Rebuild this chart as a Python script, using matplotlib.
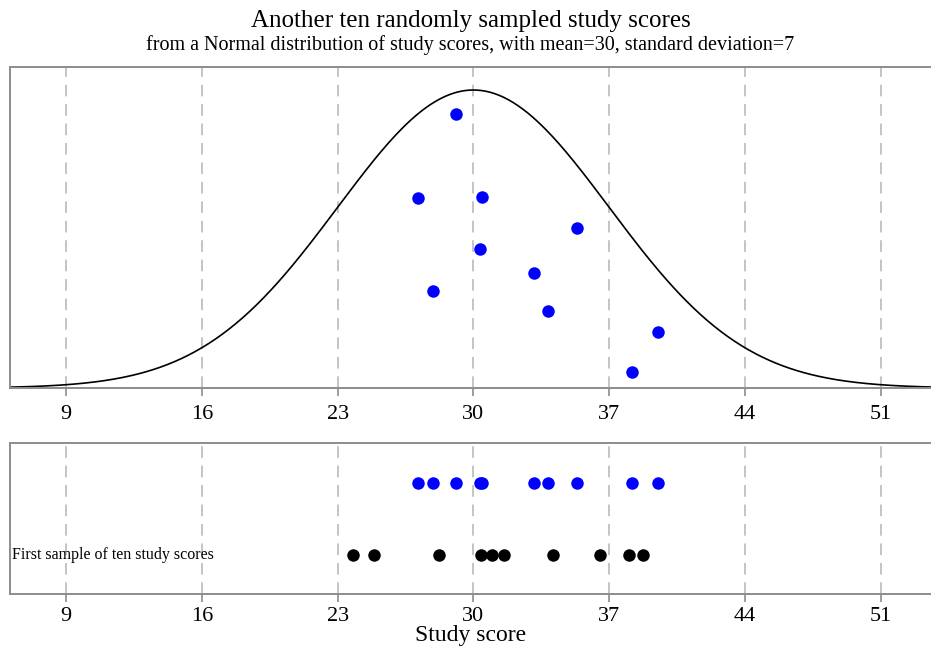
import matplotlib
matplotlib.use("Agg")
import matplotlib.pyplot as plt
import numpy as np

plt.rcParams['font.family'] = ['Liberation Serif', 'DejaVu Serif']

MEAN = 30
SD = 7

# second sample (blue): score and vertical jitter under the curve
new_scores = [29.12, 27.16, 30.46, 35.36, 30.36, 33.14, 27.94, 33.87, 39.54, 38.20]
new_heights = [0.0524, 0.0363, 0.0365, 0.0306, 0.0266, 0.0220, 0.0186, 0.0147, 0.0107, 0.0031]

# first sample (black)
first_scores = [23.81, 24.90, 28.25, 30.41, 30.98, 31.60, 34.12, 36.55, 38.04, 38.76]

tick_vals = [9, 16, 23, 30, 37, 44, 51]
xlim = (6.1, 53.6)

GRID = '#c4c4c4'
FRAME = '#8c8c8c'
BLUE = '#0000ff'


def style_axis(ax, pad):
    ax.set_xlim(*xlim)
    ax.set_xticks(tick_vals)
    ax.set_xticklabels([str(t) for t in tick_vals], fontsize=16)
    ax.set_yticks([])
    for t in tick_vals:
        ax.axvline(t, color=GRID, lw=1.4, ls=(0, (6, 4)), zorder=0)
    for side in ['left', 'bottom', 'top']:
        ax.spines[side].set_color(FRAME)
        ax.spines[side].set_linewidth(1.4)
    ax.spines['right'].set_visible(False)
    ax.tick_params(axis='x', length=5.5, width=1.2, color=FRAME, pad=pad)


fig = plt.figure(figsize=(9.31, 6.48), dpi=100)
ax1 = fig.add_axes([0.0107, 0.4012, 0.9893, 0.4954])
ax2 = fig.add_axes([0.0107, 0.0833, 0.9893, 0.2330])

# top panel: density curve with the new sample
xs = np.linspace(xlim[0], xlim[1], 400)
pdf = np.exp(-0.5 * ((xs - MEAN) / SD) ** 2) / (SD * np.sqrt(2 * np.pi))
ax1.plot(xs, pdf, color='black', lw=1.2)
ax1.plot(new_scores, new_heights, 'o', color=BLUE, ms=9, mec='none')
ax1.set_ylim(0, pdf.max() * 321 / 298)
style_axis(ax1, 6.5)

# bottom panel: both samples as strips
ax2.plot(new_scores, [0.735] * len(new_scores), 'o', color=BLUE, ms=9, mec='none')
ax2.plot(first_scores, [0.258] * len(first_scores), 'o', color='black', ms=9, mec='none')
ax2.set_ylim(0, 1)
ax2.text(6.2, 0.258, 'First sample of ten study scores', fontsize=11.5, va='center', ha='left')
style_axis(ax2, 3.5)

cx = 0.0107 + 0.9893 / 2
fig.text(cx, 1 - 641 / 648, 'Study score', fontsize=17, ha='center', va='baseline')
fig.text(cx, 1 - 21 / 648, 'Another ten randomly sampled study scores', fontsize=18, ha='center', va='center')
fig.text(cx, 1 - 45 / 648, 'from a Normal distribution of study scores, with mean=30, standard deviation=7',
         fontsize=14.5, ha='center', va='center')

fig.savefig('out.png', dpi=100)
